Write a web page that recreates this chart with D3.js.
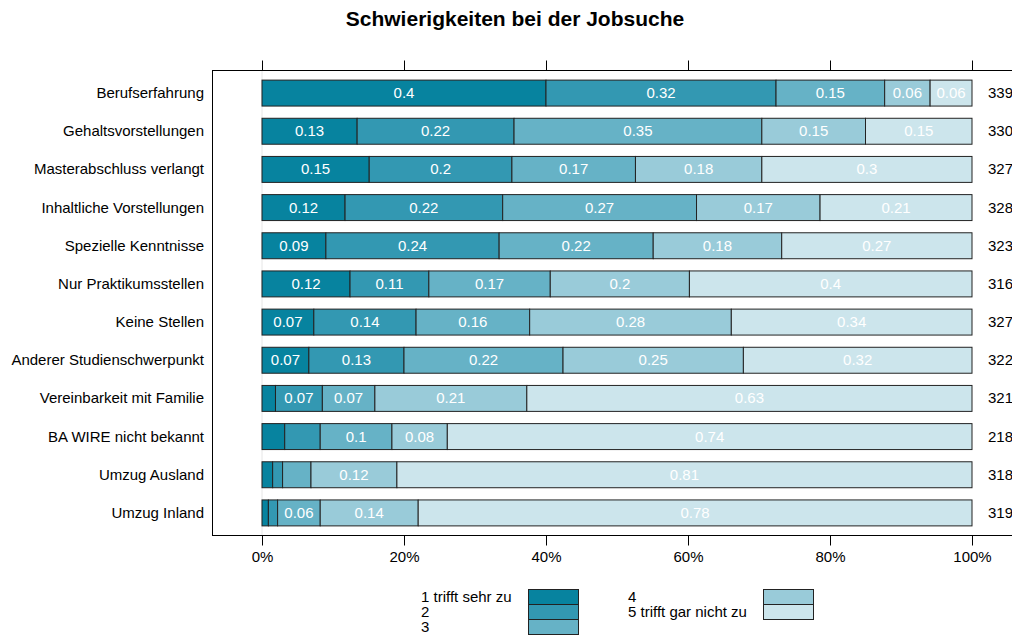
<!DOCTYPE html>
<html>
<head>
<meta charset="utf-8">
<script src="https://cdn.jsdelivr.net/npm/d3@7"></script>
<style>
  body { margin: 0; background: #fff; }
  svg { font-family: "Liberation Sans", Arial, sans-serif; }
</style>
</head>
<body>
<div id="chart"></div>
<script>
// items (top to bottom)
var items = [
  'Berufserfahrung',
  'Gehaltsvorstellungen',
  'Masterabschluss verlangt',
  'Inhaltliche Vorstellungen',
  'Spezielle Kenntnisse',
  'Nur Praktikumsstellen',
  'Keine Stellen',
  'Anderer Studienschwerpunkt',
  'Vereinbarkeit mit Familie',
  'BA WIRE nicht bekannt',
  'Umzug Ausland',
  'Umzug Inland'
];

// number of answers per item
var counts = [339, 330, 327, 328, 323, 316, 327, 322, 321, 218, 318, 319];

// answer categories
var levels = ['1 trifft sehr zu', '2', '3', '4', '5 trifft gar nicht zu'];

// shares per item, one value per level
var shares = [
  [0.400, 0.324, 0.153, 0.064, 0.059],
  [0.134, 0.221, 0.349, 0.146, 0.150],
  [0.151, 0.201, 0.174, 0.178, 0.296],
  [0.117, 0.222, 0.273, 0.174, 0.214],
  [0.090, 0.244, 0.217, 0.181, 0.268],
  [0.124, 0.111, 0.171, 0.196, 0.398],
  [0.073, 0.144, 0.160, 0.284, 0.339],
  [0.066, 0.134, 0.224, 0.254, 0.322],
  [0.019, 0.066, 0.074, 0.214, 0.627],
  [0.032, 0.050, 0.101, 0.078, 0.739],
  [0.015, 0.014, 0.040, 0.121, 0.810],
  [0.009, 0.013, 0.060, 0.138, 0.780]
];

var tickValues = [0, 0.2, 0.4, 0.6, 0.8, 1];
var colors = ['#07839f', '#3398b2', '#66b2c6', '#99cbd9', '#cce5ec'];

var width = 1012, height = 637;

var svg = d3.select('#chart').append('svg')
  .attr('width', width)
  .attr('height', height);

// panel box
var panel = { left: 212, top: 70, bottom: 535, right: 1040 };

var x = d3.scaleLinear().domain([0, 1]).range([262, 972]);

var y = d3.scaleBand()
  .domain(items)
  .range([74, 532])
  .paddingInner(0.32)
  .paddingOuter(0.16);

// title
svg.append('text')
  .attr('x', 515)
  .attr('y', 26)
  .attr('text-anchor', 'middle')
  .attr('font-size', 21)
  .attr('font-weight', 'bold')
  .text('Schwierigkeiten bei der Jobsuche');

// reference line at 0
svg.append('line')
  .attr('x1', x(0)).attr('x2', x(0))
  .attr('y1', panel.top).attr('y2', panel.bottom)
  .attr('stroke', '#e6e6e6');

// stacked bars
var stack = d3.stack().keys(d3.range(levels.length));
var series = stack(shares);

var rows = svg.append('g').selectAll('g')
  .data(items)
  .join('g')
  .attr('transform', d => `translate(0,${y(d)})`);

rows.selectAll('rect')
  .data((d, i) => series.map(s => s[i]))
  .join('rect')
  .attr('x', d => x(d[0]))
  .attr('width', d => x(d[1]) - x(d[0]))
  .attr('height', y.bandwidth())
  .attr('fill', (d, j) => colors[j])
  .attr('stroke', '#222')
  .attr('stroke-width', 1);

rows.selectAll('text.seg')
  .data((d, i) => series.map(s => s[i]).filter(d => d[1] - d[0] >= 0.055))
  .join('text')
  .attr('class', 'seg')
  .attr('x', d => (x(d[0]) + x(d[1])) / 2)
  .attr('y', y.bandwidth() / 2 + 5)
  .attr('text-anchor', 'middle')
  .attr('font-size', 15)
  .attr('fill', '#fff')
  .text(d => d3.format('.2~f')(Math.round((d[1] - d[0]) * 100) / 100));

// item labels
svg.append('g').selectAll('text')
  .data(items)
  .join('text')
  .attr('x', 204)
  .attr('y', d => y(d) + y.bandwidth() / 2 + 5)
  .attr('text-anchor', 'end')
  .attr('font-size', 15)
  .text(d => d);

// counts
svg.append('g').selectAll('text')
  .data(counts)
  .join('text')
  .attr('x', 988)
  .attr('y', (d, i) => y(items[i]) + y.bandwidth() / 2 + 5)
  .attr('font-size', 15)
  .text(d => d);

// panel border
svg.append('rect')
  .attr('x', panel.left + 0.5)
  .attr('y', panel.top + 0.5)
  .attr('width', panel.right - panel.left)
  .attr('height', panel.bottom - panel.top)
  .attr('fill', 'none')
  .attr('stroke', '#000');

// axes
svg.append('g')
  .attr('transform', `translate(0,${panel.bottom + 0.5})`)
  .call(d3.axisBottom(x).tickValues(tickValues).tickSize(10).tickPadding(6).tickFormat(d3.format('.0%')))
  .call(g => g.select('.domain').remove())
  .call(g => g.selectAll('text').attr('font-size', 15).attr('font-family', '"Liberation Sans", Arial, sans-serif').attr('fill', '#000'));

svg.append('g')
  .attr('transform', `translate(0,${panel.top + 0.5})`)
  .call(d3.axisTop(x).tickValues(tickValues).tickSize(10).tickFormat(''))
  .call(g => g.select('.domain').remove());

// legend
var legendCols = [
  { x: 421, box: 528, keys: [0, 1, 2] },
  { x: 628, box: 763, keys: [3, 4] }
];

legendCols.forEach(function (col) {
  var g = svg.append('g');
  g.selectAll('rect')
    .data(col.keys)
    .join('rect')
    .attr('x', col.box + 0.5)
    .attr('y', (d, i) => 589.5 + i * 15)
    .attr('width', 50)
    .attr('height', 15)
    .attr('fill', d => colors[d])
    .attr('stroke', '#222');
  g.selectAll('text')
    .data(col.keys)
    .join('text')
    .attr('x', col.x)
    .attr('y', (d, i) => 602 + i * 15)
    .attr('font-size', 15)
    .text(d => levels[d]);
});
</script>
</body>
</html>
